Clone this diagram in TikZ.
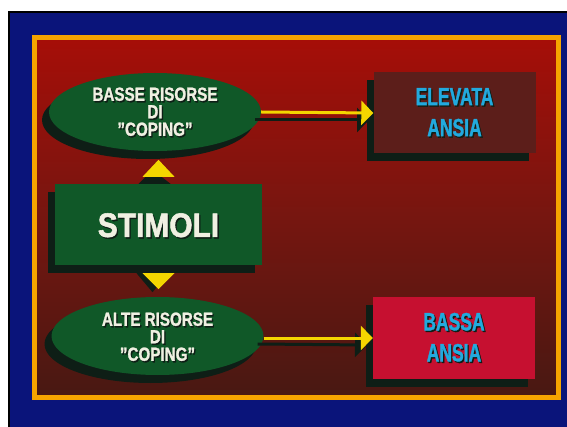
\documentclass[tikz,border=0pt]{standalone}
\usepackage{fontspec}
\usetikzlibrary{shapes.geometric,shadows,arrows.meta,calc}
\newfontfamily\fEll{Liberation Sans}[FakeStretch=0.8,BoldFeatures={FakeBold=1.3}]
\newfontfamily\fSt{Liberation Sans}[FakeStretch=0.88,BoldFeatures={FakeBold=1.6}]
\newfontfamily\fAn{Liberation Sans}[FakeStretch=0.7,BoldFeatures={FakeBold=1.3}]
\definecolor{navy}{RGB}{10,20,122}
\definecolor{frameor}{RGB}{246,164,0}
\definecolor{redtop}{RGB}{166,14,8}
\definecolor{redmid}{RGB}{118,22,16}
\definecolor{redbot}{RGB}{72,24,18}
\definecolor{nodegreen}{RGB}{16,88,40}
\definecolor{boxbrown}{RGB}{92,30,26}
\definecolor{boxcrimson}{RGB}{198,16,48}
\definecolor{txtcyan}{RGB}{34,170,222}
\definecolor{txtwhite}{RGB}{240,240,226}
\definecolor{arrowyel}{RGB}{244,214,0}
\definecolor{shadowc}{RGB}{14,30,22}
\newcommand\sh[1]{\leavevmode\rlap{\kern1.3pt\raisebox{-1.5pt}{\textcolor{shadowc}{#1}}}#1}
\begin{document}
\begin{tikzpicture}[x=1pt,y=-1pt,
  shd/.style={drop shadow={shadow xshift=-7pt,shadow yshift=-8pt,fill=shadowc,opacity=1}},
  ellnode/.style={ellipse,fill=nodegreen,inner sep=0pt,minimum width=212pt,minimum height=78pt,shd},
  boxnode/.style={rectangle,inner sep=0pt,minimum width=162pt,minimum height=81pt,shd},
  stimnode/.style={rectangle,fill=nodegreen,inner sep=0pt,minimum width=207pt,minimum height=81pt,shd},
  elltxt/.style={align=center,inner sep=0pt,font={\fEll\bfseries\fontsize{19}{17.5}\selectfont}},
  stimtxt/.style={align=center,inner sep=0pt,font={\fSt\bfseries\fontsize{34}{38}\selectfont}},
  anstxt/.style={align=center,inner sep=0pt,font={\fAn\bfseries\fontsize{25}{31}\selectfont}},
  conn/.style={draw=arrowyel,line width=3pt,-{Triangle[length=12pt,width=24pt]},arrowyel},
  connshd/.style={draw=shadowc,line width=3pt,-{Triangle[length=12pt,width=24pt]},shadowc},
  tri/.style={fill=arrowyel},
  trishd/.style={fill=shadowc}
]
\useasboundingbox (0,0) rectangle (567,427);
\fill[white] (0,0) rectangle (567,427);
\fill[navy] (8,11) rectangle (567,427);
\draw[black,line width=2pt] (9,427) -- (9,12) -- (567,12);
\shade[top color=redtop,bottom color=redbot,middle color=redmid] (34.5,37.5) rectangle (558,397.5);
\draw[frameor,line width=5pt] (34.5,37.5) rectangle (558,397.5);

% nodes
\node[ellnode] (low) at (155,112) {};
\node[ellnode] (high) at (157.5,336) {};
\node[stimnode] (stim) at (158.5,224.5) {};

% connector shadows
\draw[connshd] ([shift={(-6,8)}]low.east) -- ([shift={(-6,8)}]375,112);
\draw[connshd] ([shift={(-6,8)}]high.east) -- ([shift={(-6,8)}]373,337);

\node[boxnode,fill=boxbrown] (elev) at (454.5,113) {};
\node[boxnode,fill=boxcrimson] (bassa) at (454,338) {};

\draw[conn] (low.east) -- (elev.west);
\draw[conn] (high.east |- bassa.west) -- (bassa.west);

% triangles stimoli -> ellipses
\fill[trishd] ($(stim.north)+(-20,0)$) -- ($(stim.north)+(12,0)$) -- ($(stim.north)+(-6,-14)$) -- cycle;
\fill[tri] ($(stim.north)+(-16,-7)$) -- ($(stim.north)+(16,-7)$) -- ($(stim.north)+(0,-24)$) -- cycle;
\fill[trishd] ($(stim.south)+(-22,8)$) -- ($(stim.south)+(10,8)$) -- ($(stim.south)+(-6,27)$) -- cycle;
\fill[tri] ($(stim.south)+(-16,8)$) -- ($(stim.south)+(16,8)$) -- ($(stim.south)+(0,24)$) -- cycle;

% texts
\node[elltxt,text=txtwhite] (lowt) at ($(low)+(0,0.5)$) {\sh{BASSE RISORSE}\\\sh{DI}\\\sh{”COPING”}};
\node[elltxt,text=txtwhite] (hight) at ($(high)+(0,1.5)$) {\sh{ALTE RISORSE}\\\sh{DI}\\\sh{”COPING”}};
\node[stimtxt,text=txtwhite] (stimt) at ($(stim)+(0,1.5)$) {\sh{STIMOLI}};
\node[anstxt,text=txtcyan] (elevt) at (elev) {\sh{ELEVATA}\\\sh{ANSIA}};
\node[anstxt,text=txtcyan] (bassat) at (bassa) {\sh{BASSA}\\\sh{ANSIA}};
\end{tikzpicture}
\end{document}
